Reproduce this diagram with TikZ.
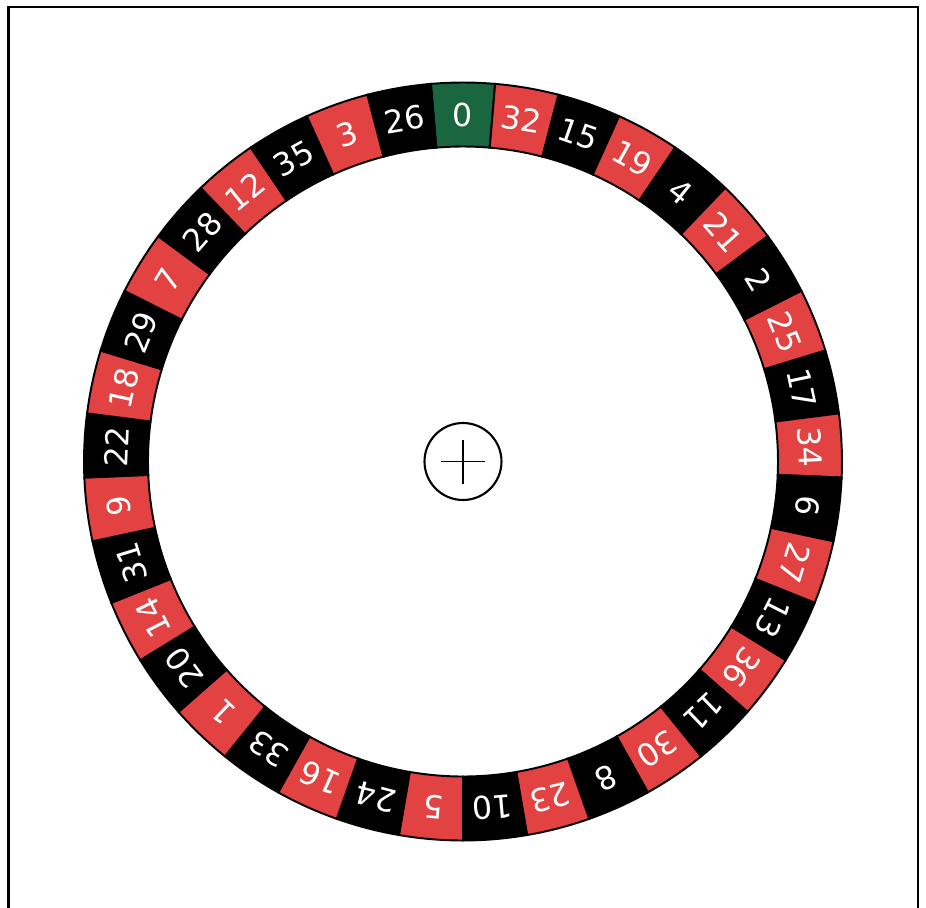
\documentclass[tikz,border=0pt]{standalone}
\usepackage{fontspec}
\setmainfont{DejaVu Sans}
\definecolor{pocketred}{RGB}{226,66,66}
\definecolor{pocketgreen}{RGB}{26,102,64}

\begin{document}
\begin{tikzpicture}[x=0.02cm,y=0.02cm,font=\fontsize{18}{21}\selectfont,
  pocket/.style={draw=black,line width=1.1pt},
  num/.style={text=white,inner sep=0pt}]
  \useasboundingbox (-463,-445.5) rectangle (463,461.5);
  % frame, open at the bottom
  \draw[line width=1.7pt] (-454.3,-446) -- (-454.3,454.5) -- (455,454.5) -- (455,-446);
  % pockets, clockwise from the zero
  \foreach \n [count=\k from 0] in {0,32,15,19,4,21,2,25,17,34,6,27,13,36,11,30,8,23,10,5,24,16,33,1,20,14,31,9,22,18,29,7,28,12,35,3,26} {
    \pgfmathsetmacro\a{90-\k*360/37}
    \pgfmathsetmacro\sa{\a+180/37}
    \pgfmathsetmacro\ea{\a-180/37}
    \ifnum\k=0 \def\col{pocketgreen}\else\ifodd\k\relax\def\col{pocketred}\else\def\col{black}\fi\fi
    \draw[pocket,fill=\col] (\sa:315) -- (\sa:379) arc[start angle=\sa,end angle=\ea,radius=379]
      -- (\ea:315) arc[start angle=\ea,end angle=\sa,radius=315] -- cycle;
    \node[num,rotate=\a-90] (p\n) at (\a:347) {\n};
  }
  % centre mark
  \node[draw,circle,line width=1.2pt,minimum size=1.54cm,inner sep=0pt] (hub) at (0,0) {};
  \draw[line width=1.1pt] (-22,0) -- (22,0) (0,-22) -- (0,22);
\end{tikzpicture}
\end{document}
